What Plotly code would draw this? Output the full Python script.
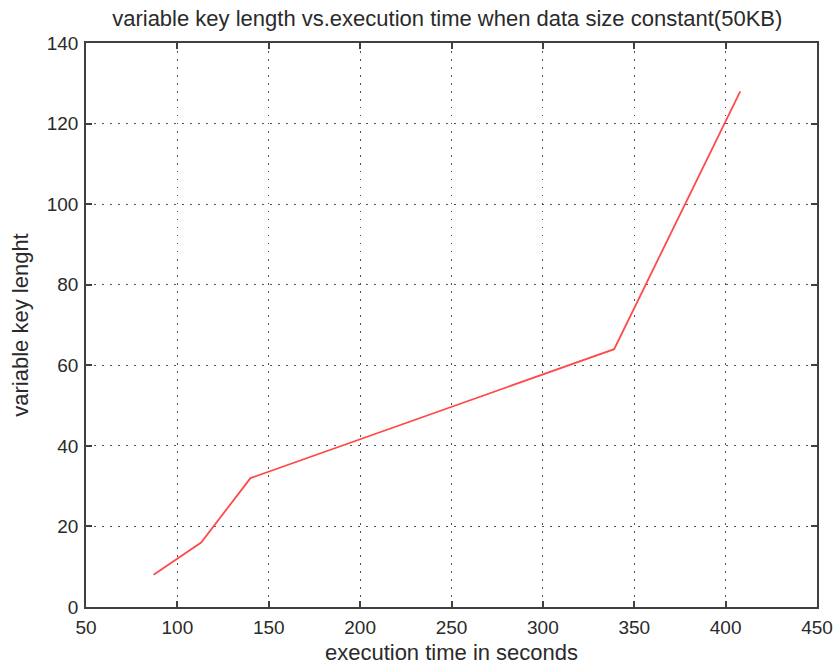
import plotly.graph_objects as go

# execution time (s) for each key length, data size fixed at 50KB
exec_time = [87, 113, 140, 339, 408]
key_length = [8, 16, 32, 64, 128]

x_ticks = [50, 100, 150, 200, 250, 300, 350, 400, 450]
y_ticks = [0, 20, 40, 60, 80, 100, 120, 140]

FONT = "Liberation Sans, Arial, sans-serif"
TEXT = "#2a2a2a"

fig = go.Figure()
fig.add_trace(go.Scatter(
    x=exec_time, y=key_length, mode="lines",
    line=dict(color="#ff4a4a", width=1.8),
    showlegend=False,
))

axis_common = dict(
    showline=True, linecolor="#404040", linewidth=1.6, mirror="ticks",
    ticks="inside", ticklen=6, tickcolor="#404040", tickwidth=1.6,
    showgrid=True, gridcolor="#505050", griddash="1.5px,6.5px", gridwidth=1.3,
    zeroline=False, automargin=False,
    tickfont=dict(family=FONT, size=19, color=TEXT),
)

fig.update_layout(
    width=836, height=666,
    margin=dict(l=86, r=19, t=43, b=59),
    paper_bgcolor="white", plot_bgcolor="white",
    title=dict(
        text="variable key length vs.execution time when data size constant(50KB)",
        x=0.535, xanchor="center", y=0.973, yanchor="middle",
        font=dict(family=FONT, size=22, color=TEXT),
    ),
    xaxis=dict(
        range=[50, 450], tickvals=x_ticks, ticklabelstandoff=2,
        title=dict(text="execution time in seconds", standoff=8,
                   font=dict(family=FONT, size=22, color=TEXT)),
        **axis_common,
    ),
    yaxis=dict(
        range=[0, 140], tickvals=y_ticks, ticklabelstandoff=2,
        title=dict(text="variable key lenght", standoff=12,
                   font=dict(family=FONT, size=22, color=TEXT)),
        **axis_common,
    ),
)

fig.write_html("out.html")
